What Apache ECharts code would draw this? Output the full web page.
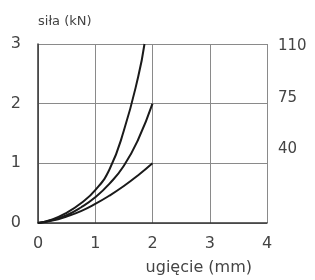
<!DOCTYPE html>
<html>
<head>
<meta charset="utf-8">
<script src="https://cdn.jsdelivr.net/npm/echarts@6/dist/echarts.min.js"></script>
<style>
html, body { margin: 0; padding: 0; background: #fff; }
#chart { width: 315px; height: 280px; }
</style>
</head>
<body>
<div id="chart"></div>
<script>
var xTicks = [0, 1, 2, 3, 4];
var yTicks = [0, 1, 2, 3];
// spring curves, deflection (mm) vs force (kN)
var curve110 = [[0, 0], [0.25, 0.06], [0.5, 0.17], [0.75, 0.33], [1, 0.55], [1.25, 0.9], [1.5, 1.55], [1.75, 2.45], [1.86, 3.0]];
var curve75 = [[0, 0], [0.25, 0.05], [0.5, 0.13], [0.75, 0.26], [1, 0.43], [1.25, 0.66], [1.5, 0.96], [1.75, 1.4], [2, 2.0]];
var curve40 = [[0, 0], [0.25, 0.04], [0.5, 0.11], [0.75, 0.2], [1, 0.32], [1.25, 0.46], [1.5, 0.62], [1.75, 0.8], [2, 1.0]];
var rightLabels = ['110', '75', '40'];
var rightLabelY = [3.0, 2.12, 1.28];

var myChart = echarts.init(document.getElementById('chart'));

var font = 'DejaVu Sans, Arial, sans-serif';
var lineStyle = { color: '#1a1a1a', width: 2 };

var option = {
    animation: false,
    backgroundColor: '#fff',
    grid: { left: 38, right: 48, top: 44, bottom: 57 },
    xAxis: {
        type: 'value',
        min: 0, max: 4, interval: 1,
        name: 'ugięcie (mm)',
        nameLocation: 'end',
        nameGap: 0,
        nameTextStyle: { color: '#444', fontSize: 16, fontFamily: font, align: 'right', verticalAlign: 'top', padding: [37, 15, 0, 0] },
        axisLine: { lineStyle: { color: '#333', width: 1.5 } },
        axisTick: { show: false },
        axisLabel: { color: '#444', fontSize: 16, fontFamily: font, margin: 13 },
        splitLine: { lineStyle: { color: '#8a8a8a', width: 1 } }
    },
    yAxis: {
        type: 'value',
        min: 0, max: 3, interval: 1,
        name: 'siła (kN)',
        nameLocation: 'end',
        nameGap: 16,
        nameTextStyle: { color: '#444', fontSize: 13, fontFamily: font, align: 'left' },
        axisLine: { show: true, lineStyle: { color: '#333', width: 1.5 } },
        axisTick: { show: false },
        axisLabel: { color: '#444', fontSize: 16, fontFamily: font, margin: 17 },
        splitLine: { lineStyle: { color: '#8a8a8a', width: 1 } }
    },
    series: [
        { type: 'line', data: curve110, smooth: true, symbol: 'none', lineStyle: lineStyle },
        { type: 'line', data: curve75, smooth: true, symbol: 'none', lineStyle: lineStyle },
        { type: 'line', data: curve40, smooth: true, symbol: 'none', lineStyle: lineStyle }
    ]
};
myChart.setOption(option);

var texts = [];
for (var i = 0; i < rightLabels.length; i++) {
    var p = myChart.convertToPixel({ gridIndex: 0 }, [4, rightLabelY[i]]);
    texts.push({
        type: 'text',
        x: p[0] + 11,
        y: p[1] + 2,
        style: { text: rightLabels[i], fill: '#444', font: '15px ' + font, textVerticalAlign: 'middle' }
    });
}
myChart.setOption({ graphic: texts });
</script>
</body>
</html>
